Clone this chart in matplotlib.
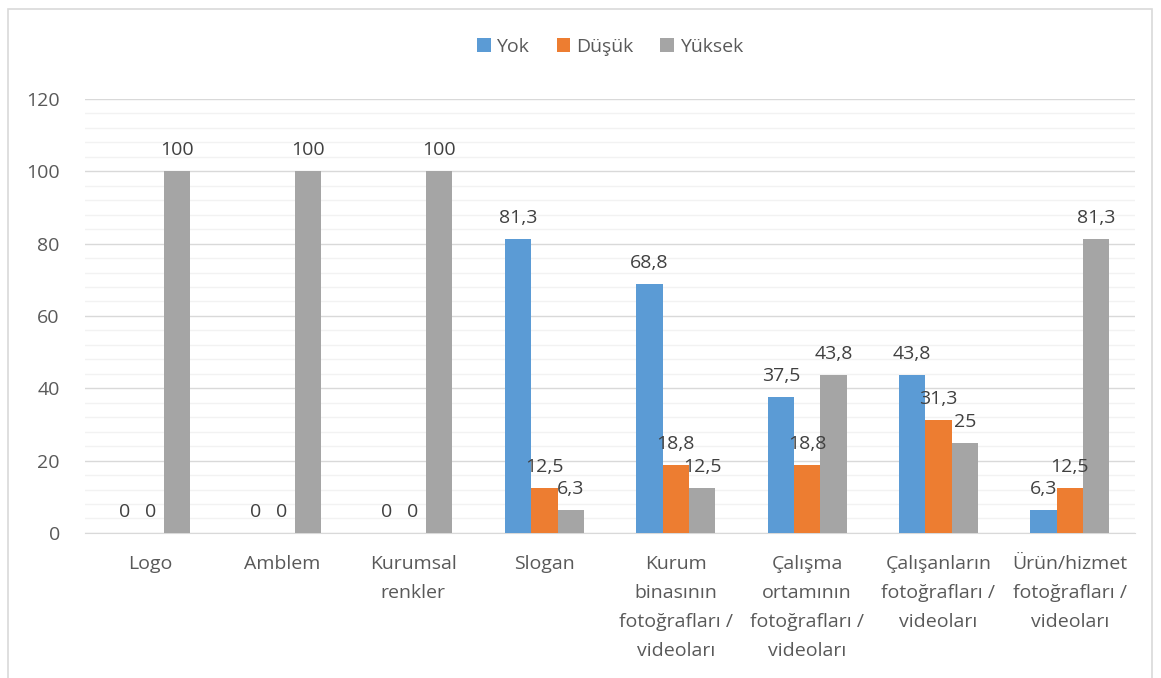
import matplotlib.pyplot as plt
import numpy as np
from matplotlib.patches import Rectangle

plt.rcParams['font.family'] = ['Open Sans', 'DejaVu Sans']

categories = ["Logo", "Amblem", "Kurumsal\nrenkler", "Slogan",
              "Kurum\nbinasının\nfotoğrafları /\nvideoları",
              "Çalışma\nortamının\nfotoğrafları /\nvideoları",
              "Çalışanların\nfotoğrafları /\nvideoları",
              "Ürün/hizmet\nfotoğrafları /\nvideoları"]
series_names = ["Yok", "Düşük", "Yüksek"]
yok = [0, 0, 0, 81.3, 68.8, 37.5, 43.8, 6.3]
dusuk = [0, 0, 0, 12.5, 18.8, 18.8, 31.3, 12.5]
yuksek = [100, 100, 100, 6.3, 12.5, 43.8, 25, 81.3]
colors = ["#5b9bd5", "#ed7d31", "#a5a5a5"]

fig = plt.figure(figsize=(11.61, 6.78), dpi=100)
ax = fig.add_axes([0.073, 0.214, 0.905, 0.640])

# chart frame
fig.patches.append(Rectangle((8 / 1161, -0.05), 1144 / 1161, 1.05 - 9 / 678,
                             transform=fig.transFigure, fill=False,
                             edgecolor="#d9d9d9", linewidth=1.2))

x = np.arange(len(categories))
w = 0.2
for i, (vals, name) in enumerate(zip([yok, dusuk, yuksek], series_names)):
    bars = ax.bar(x + (i - 1) * w, vals, w, color=colors[i], label=name, zorder=3)
    for b, v in zip(bars, vals):
        txt = f"{v:g}".replace(".", ",")
        ax.text(b.get_x() + b.get_width() / 2, v + 3.3, txt, ha="center",
                va="bottom", fontsize=14, color="#404040", zorder=4)

ax.set_xlim(-0.5, len(categories) - 0.5)
ax.set_ylim(0, 120)
ax.set_yticks(range(0, 121, 20))
ax.set_yticks(range(0, 121, 4), minor=True)
ax.grid(axis="y", which="major", color="#d9d9d9", linewidth=1, zorder=0)
ax.grid(axis="y", which="minor", color="#f2f2f2", linewidth=1, zorder=0)
ax.tick_params(axis="y", which="both", length=0, labelsize=14, labelcolor="#595959", pad=18)
ax.set_xticks(x)
ax.set_xticklabels(categories, fontsize=14, color="#595959", linespacing=1.78)
ax.tick_params(axis="x", length=0, pad=16)
for s in ["top", "right", "left"]:
    ax.spines[s].set_visible(False)
ax.spines["bottom"].set_color("#d9d9d9")

ax.legend(loc="center", bbox_to_anchor=(0.5, 1.12), ncol=3, frameon=False,
          fontsize=14, labelcolor="#595959", handlelength=0.7, handleheight=0.7,
          handletextpad=0.3, columnspacing=1.4)

fig.savefig("out.png", dpi=100)
